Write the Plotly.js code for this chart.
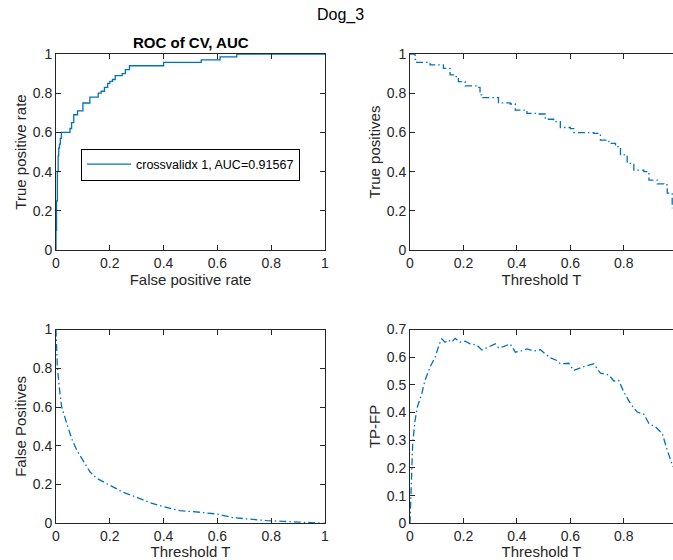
<!DOCTYPE html>
<html>
<head>
<meta charset="utf-8">
<script src="https://cdn.plot.ly/plotly-3.0.1.min.js"></script>
<style>html,body{margin:0;padding:0;overflow:hidden;background:#fff;}#chart{width:673px;height:560px;}</style>
</head>
<body>
<div id="chart"></div>
<script>
// ROC curve (staircase vertices)
const rocFPR = [0,0,0.002,0.005,0.008,0.010,0.013,0.016,0.020,0.052,0.058,0.066,0.080,0.100,0.126,0.157,0.168,0.180,0.192,0.200,0.210,0.220,0.246,0.258,0.273,0.400,0.540,0.610,0.672,1.0];
const rocTPR = [0,0.10,0.25,0.40,0.48,0.52,0.54,0.57,0.60,0.62,0.65,0.69,0.71,0.75,0.78,0.80,0.81,0.83,0.85,0.86,0.87,0.89,0.90,0.92,0.94,0.957,0.97,0.985,1.0,1.0];
const rocLabel = "crossvalidx 1, AUC=0.91567";

// True positives vs threshold
const tpT = [0,0.019,0.025,0.069,0.075,0.119,0.125,0.150,0.169,0.181,0.206,0.250,0.262,0.269,0.319,0.331,0.375,0.394,0.4375,0.475,0.506,0.5375,0.5625,0.600,0.6125,0.6875,0.7125,0.744,0.769,0.7875,0.8125,0.8375,0.875,0.894,0.925,0.950,0.9625,0.981];
const tpV = [1.0,0.973,0.957,0.952,0.945,0.945,0.927,0.893,0.885,0.859,0.837,0.830,0.791,0.777,0.777,0.751,0.745,0.714,0.697,0.694,0.667,0.655,0.625,0.619,0.599,0.595,0.561,0.544,0.527,0.485,0.442,0.408,0.400,0.357,0.337,0.332,0.290,0.213];

// False positives vs threshold
const fpT = [0,0.002,0.005,0.012,0.021,0.040,0.058,0.077,0.102,0.126,0.151,0.200,0.250,0.300,0.349,0.399,0.461,0.535,0.597,0.659,0.721,0.783,0.845,0.907,1.0];
const fpV = [1.0,0.928,0.808,0.704,0.601,0.515,0.438,0.378,0.318,0.266,0.232,0.198,0.160,0.134,0.107,0.086,0.065,0.057,0.048,0.029,0.021,0.014,0.010,0.007,0.0];

// TP-FP vs threshold
const dT = [0,0.0025,0.006,0.010,0.019,0.0275,0.044,0.056,0.075,0.094,0.110,0.119,0.131,0.144,0.156,0.169,0.1875,0.206,0.225,0.250,0.269,0.2875,0.319,0.331,0.350,0.375,0.394,0.419,0.4375,0.4625,0.4875,0.506,0.525,0.550,0.5625,0.594,0.6125,0.650,0.6875,0.7125,0.744,0.7625,0.781,0.800,0.825,0.850,0.875,0.894,0.919,0.944,0.9625,0.984];
const dV = [0,0.096,0.204,0.288,0.372,0.420,0.468,0.516,0.564,0.600,0.648,0.666,0.654,0.662,0.654,0.668,0.654,0.658,0.648,0.644,0.626,0.634,0.648,0.634,0.638,0.648,0.618,0.624,0.630,0.622,0.627,0.612,0.598,0.588,0.576,0.578,0.552,0.566,0.576,0.542,0.536,0.514,0.516,0.474,0.432,0.402,0.394,0.360,0.348,0.324,0.264,0.204];

const BLUE = '#0072BD';
const AX = '#262626';
const FONT = 'Liberation Sans, Arial, Helvetica, sans-serif';
const DASHDOT = '7px,3px,1.5px,3px';

const W = 673, H = 560;
const xd = (a,b)=>[a/W, b/W];
const yd = (top,bot)=>[1-bot/H, 1-top/H];

function axis(domain, anchor, range, dtick, title, mirror) {
  return {
    domain: domain, anchor: anchor, range: range, dtick: dtick, tick0: 0,
    showgrid: false, zeroline: false, showline: true, linecolor: AX, linewidth: 1,
    mirror: mirror, ticks: 'inside', ticklen: 5, tickcolor: AX, tickwidth: 1,
    tickfont: {family: FONT, size: 14, color: AX},
    title: {text: title, font: {family: FONT, size: 15, color: AX}, standoff: 2},
    fixedrange: true
  };
}

const traces = [
  {x: rocFPR, y: rocTPR, type: 'scatter', mode: 'lines', line: {color: BLUE, width: 1.3, shape: 'hv'},
   name: rocLabel, xaxis: 'x', yaxis: 'y', showlegend: true},
  {x: tpT, y: tpV, type: 'scatter', mode: 'lines', line: {color: BLUE, width: 1.3, dash: DASHDOT, shape: 'hv'},
   xaxis: 'x2', yaxis: 'y2', showlegend: false},
  {x: fpT, y: fpV, type: 'scatter', mode: 'lines', line: {color: BLUE, width: 1.3, dash: DASHDOT},
   xaxis: 'x3', yaxis: 'y3', showlegend: false},
  {x: dT, y: dV, type: 'scatter', mode: 'lines', line: {color: BLUE, width: 1.3, dash: DASHDOT},
   xaxis: 'x4', yaxis: 'y4', showlegend: false}
];

const rMax = 0.984;
const layout = {
  width: W, height: H, margin: {l: 0, r: 0, t: 0, b: 0},
  paper_bgcolor: '#fff', plot_bgcolor: '#fff',
  font: {family: FONT, color: AX},
  xaxis: axis(xd(56,325), 'y', [0,1], 0.2, 'False positive rate', 'ticks'),
  yaxis: axis(yd(54,250), 'x', [0,1], 0.2, 'True positive rate', 'ticks'),
  xaxis2: axis(xd(410,673), 'y2', [0,rMax], 0.2, 'Threshold T', 'ticks'),
  yaxis2: axis(yd(54,250), 'x2', [0,1], 0.2, 'True positives', false),
  xaxis3: axis(xd(56,325), 'y3', [0,1], 0.2, 'Threshold T', 'ticks'),
  yaxis3: axis(yd(329.5,523.3), 'x3', [0,1], 0.2, 'False Positives', 'ticks'),
  xaxis4: axis(xd(410,673), 'y4', [0,rMax], 0.2, 'Threshold T', 'ticks'),
  yaxis4: axis(yd(329.5,523.3), 'x4', [0,0.7], 0.1, 'TP-FP', false),
  showlegend: true,
  legend: {x: 81/W, y: 1-164.5/H, xanchor: 'left', yanchor: 'middle', bgcolor: '#fff',
    bordercolor: '#000', borderwidth: 1, font: {family: FONT, size: 12.5, color: '#000'},
    itemwidth: 44, tracegroupgap: 0},
  annotations: [
    {text: 'Dog_3', x: 340/W, y: 1-15/H, xref: 'paper', yref: 'paper', showarrow: false,
     xanchor: 'center', yanchor: 'middle', font: {family: FONT, size: 16, color: '#000'}},
    {text: '<b>ROC of CV, AUC</b>', x: 191/W, y: 1-43/H, xref: 'paper', yref: 'paper', showarrow: false,
     xanchor: 'center', yanchor: 'middle', font: {family: FONT, size: 15, color: '#000'}}
  ]
};

Plotly.newPlot('chart', traces, layout, {staticPlot: true, displayModeBar: false});
</script>
</body>
</html>
